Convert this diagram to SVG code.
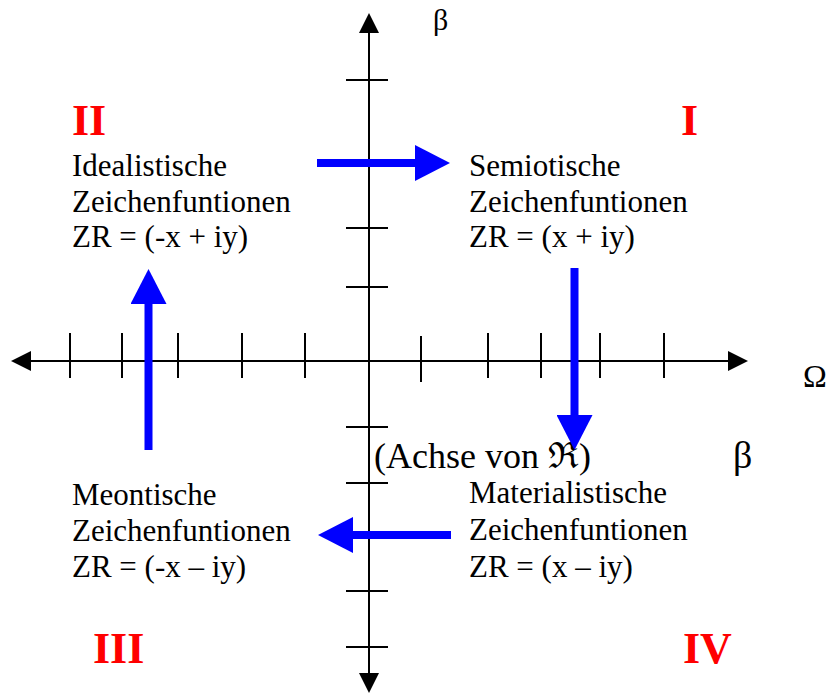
<svg xmlns="http://www.w3.org/2000/svg" width="828" height="694" viewBox="0 0 828 694">
<style>
.ax{stroke:#000;stroke-width:2;fill:none}
.tk{stroke:#000;stroke-width:2}
.hd{fill:#000}
.t{font-family:"Liberation Serif","DejaVu Serif",serif;font-size:31px;fill:#000}
.rn{font-family:"Liberation Serif",serif;font-size:44px;font-weight:bold;fill:#ff0000}
.sym{font-family:"Liberation Serif","DejaVu Serif",serif;fill:#000}
.ba{stroke:#0000ff;stroke-width:8;fill:none;marker-end:url(#bh)}
</style>
<defs>
<marker id="bh" markerUnits="userSpaceOnUse" markerWidth="36" markerHeight="36" refX="0" refY="18" orient="auto" viewBox="0 0 36 36">
<path d="M0,0 L35,18 L0,36 z" fill="#0000ff"/>
</marker>
</defs>
<rect width="828" height="694" fill="#fff"/>
<g id="axes">
<line class="ax" x1="30" y1="361" x2="729" y2="361"/>
<polygon class="hd" points="11,361 31,351 31,371"/>
<polygon class="hd" points="748,361 728,351 728,371"/>
<line class="ax" x1="369" y1="32" x2="369" y2="674"/>
<polygon class="hd" points="369,13 359,33 379,33"/>
<polygon class="hd" points="369,693 359,673 379,673"/>
<g class="tk">
<line x1="70" y1="333" x2="70" y2="378"/>
<line x1="122" y1="333" x2="122" y2="378"/>
<line x1="178" y1="333" x2="178" y2="378"/>
<line x1="242" y1="333" x2="242" y2="378"/>
<line x1="305" y1="333" x2="305" y2="378"/>
<line x1="421" y1="336" x2="421" y2="382"/>
<line x1="488" y1="333" x2="488" y2="378"/>
<line x1="541" y1="333" x2="541" y2="378"/>
<line x1="600" y1="333" x2="600" y2="378"/>
<line x1="664" y1="333" x2="664" y2="378"/>
<line x1="346" y1="80" x2="388" y2="80"/>
<line x1="346" y1="228" x2="388" y2="228"/>
<line x1="346" y1="287" x2="388" y2="287"/>
<line x1="346" y1="427" x2="388" y2="427"/>
<line x1="346" y1="483" x2="388" y2="483"/>
<line x1="346" y1="591" x2="388" y2="591"/>
<line x1="346" y1="647" x2="388" y2="647"/>
</g>
<text class="sym" x="433" y="30" font-size="30">β</text>
<text class="sym" x="733" y="468" font-size="38">β</text>
<text class="sym" x="803" y="387" font-size="32">Ω</text>
<text class="sym" x="374" y="468" font-size="36">(Achse von ℜ)</text>
</g>
<g id="q1">
<text class="rn" x="681" y="135">I</text>
<text class="t" x="469" y="176">Semiotische</text>
<text class="t" x="469" y="212">Zeichenfuntionen</text>
<text class="t" x="469" y="247">ZR = (x + iy)</text>
</g>
<g id="q2">
<text class="rn" x="72" y="135">II</text>
<text class="t" x="72" y="176">Idealistische</text>
<text class="t" x="72" y="212">Zeichenfuntionen</text>
<text class="t" x="72" y="247">ZR = (-x + iy)</text>
</g>
<g id="q3">
<text class="t" x="72" y="505">Meontische</text>
<text class="t" x="72" y="541">Zeichenfuntionen</text>
<text class="t" x="72" y="577">ZR = (-x – iy)</text>
<text class="rn" x="93" y="663">III</text>
</g>
<g id="q4">
<text class="t" x="469" y="503">Materialistische</text>
<text class="t" x="469" y="540">Zeichenfuntionen</text>
<text class="t" x="469" y="577">ZR = (x – iy)</text>
<text class="rn" x="683" y="663">IV</text>
</g>
<g id="connectors">
<line class="ba" x1="317" y1="163" x2="415" y2="163"/>
<line class="ba" x1="574.5" y1="268" x2="574.5" y2="415"/>
<line class="ba" x1="451" y1="535" x2="353" y2="535"/>
<line class="ba" x1="148.5" y1="450" x2="148.5" y2="304"/>
</g>
</svg>
